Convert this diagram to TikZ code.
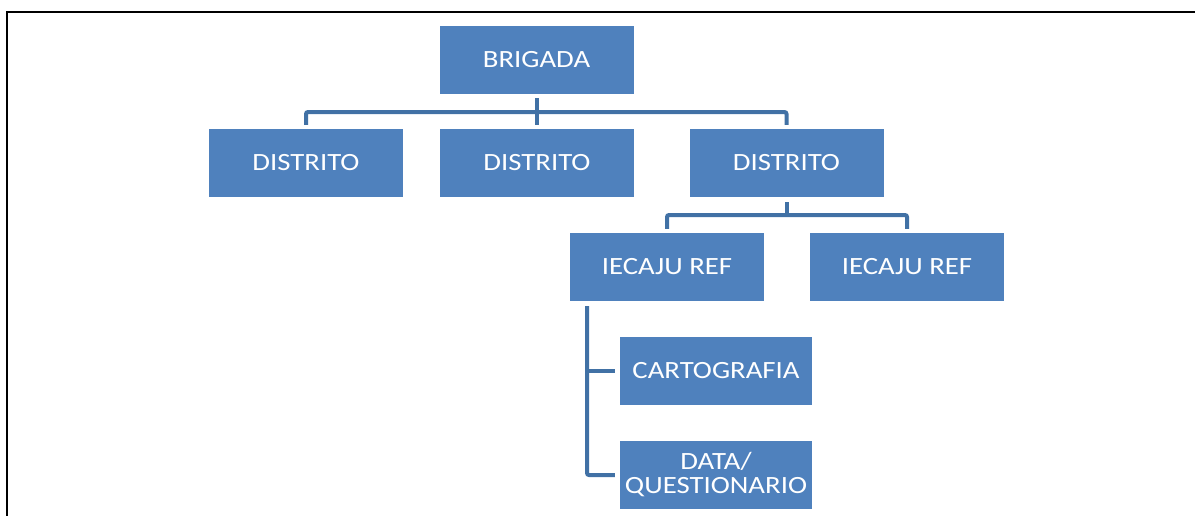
\documentclass[tikz,border=0pt]{standalone}
\usepackage{fontspec}
\newfontfamily\boxfont[FakeStretch=1.16]{Carlito}
\definecolor{boxblue}{RGB}{79,129,189}
\definecolor{linkblue}{RGB}{65,113,165}
\begin{document}
\begin{tikzpicture}[x=1pt,y=-1pt,
  orgbox/.style={rectangle, fill=boxblue, draw=none, minimum width=194pt, minimum height=68pt,
    inner sep=0pt, text=white, align=center, font=\boxfont\fontsize{24.8}{24}\selectfont},
  smallbox/.style={orgbox, minimum width=192pt},
  conn/.style={draw=linkblue, line width=4pt, rounded corners=2pt}]
\useasboundingbox (0,0) rectangle (1195,515);
\draw[line width=2pt] (7,516) -- (7,12) -- (1196,12);

\node[orgbox] (brig) at (536.5,60) {BRIGADA};
\node[orgbox] (d1) at (306,163) {DISTRITO};
\node[orgbox] (d2) at (537,163) {DISTRITO};
\node[orgbox] (d3) at (786.5,163) {DISTRITO};
\node[orgbox] (i1) at (667,267) {IECAJU REF};
\node[orgbox] (i2) at (907,267) {IECAJU REF};
\node[smallbox] (carto) at (716,371) {CARTOGRAFIA};
\node[smallbox] (data) at (716,475) {DATA/\\QUESTIONARIO};

\coordinate (bus1) at (0,112);
\coordinate (bus2) at (0,215);
\coordinate (v) at (587,306);

\draw[conn] ([yshift=-4pt]brig.south) -- (brig.south |- bus1);
\draw[conn] ([yshift=4pt]d1.north) |- (d3.north |- bus1) -- ([yshift=4pt]d3.north);
\draw[conn] ([yshift=4pt]d2.north) -- (d2.north |- bus1);

\draw[conn] ([yshift=-5pt]d3.south) -- (d3.south |- bus2);
\draw[conn] ([yshift=4pt]i1.north) |- (i2.north |- bus2) -- ([yshift=4pt]i2.north);

\draw[conn] (v) |- ([xshift=-5pt]data.west);
\draw[conn] (v |- carto.west) -- ([xshift=-5pt]carto.west);
\end{tikzpicture}
\end{document}
